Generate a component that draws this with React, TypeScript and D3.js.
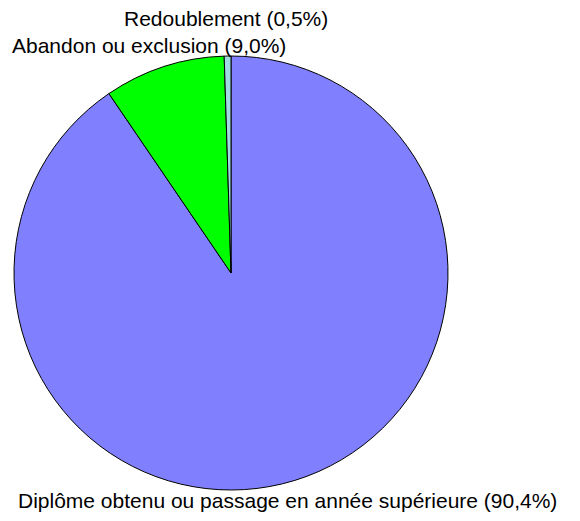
import React from 'react';
import * as d3 from 'd3';

const categories = [
  'Diplôme obtenu ou passage en année supérieure',
  'Abandon ou exclusion',
  'Redoublement',
];
const values = [90.4, 9.0, 0.5];
const labels = ['(90,4%)', '(9,0%)', '(0,5%)'];
const colors = ['#8080FF', '#00FF00', '#A0DAE2'];

// label positions (left x, baseline y) as placed in the original
const labelPos: [number, number][] = [
  [18, 508],
  [12, 53],
  [124, 26],
];

export default function App() {
  const width = 580;
  const height = 521;
  const cx = 231;
  const cy = 273;
  const r = 217;

  const pie = d3.pie<number>().sort(null).value(d => d)(values);
  const arc = d3.arc<d3.PieArcDatum<number>>().innerRadius(0).outerRadius(r);

  return (
    <svg
      width={width}
      height={height}
      style={{ position: 'absolute', left: 0, top: 0, background: '#fff' }}
    >
      <g transform={`translate(${cx},${cy})`}>
        {pie.map((p, i) => (
          <path key={i} d={arc(p) || ''} fill={colors[i]} stroke="#000" strokeWidth={1} />
        ))}
      </g>
      {categories.map((c, i) => (
        <text
          key={c}
          x={labelPos[i][0]}
          y={labelPos[i][1]}
          fontFamily="Liberation Sans, Arial, sans-serif"
          fontSize={21}
          fill="#000"
        >
          {`${c} ${labels[i]}`}
        </text>
      ))}
    </svg>
  );
}
